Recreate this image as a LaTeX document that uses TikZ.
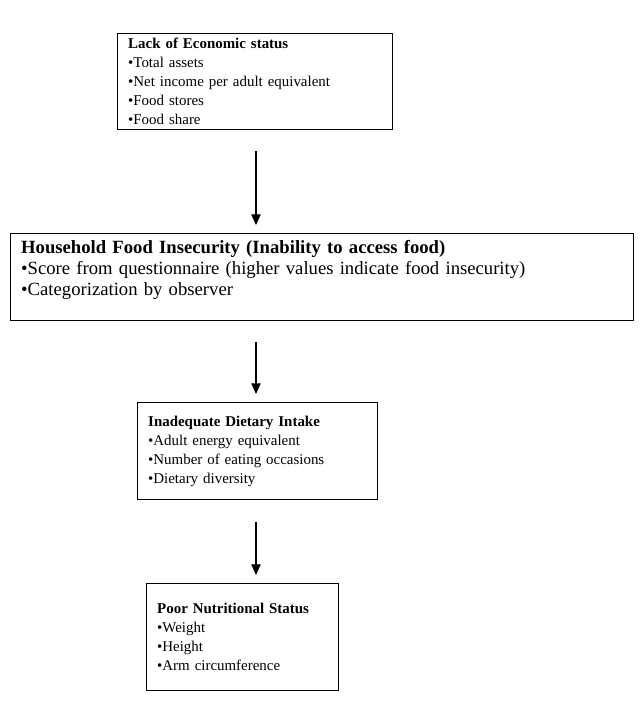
\documentclass[tikz,border=0pt]{standalone}
\usepackage{fontspec}
\setmainfont{Liberation Serif}
\usetikzlibrary{arrows.meta, positioning}

\begin{document}
\begin{tikzpicture}[
    x=0.75pt, y=-0.75pt,
    block/.style={rectangle, draw, line width=0.8pt, anchor=north west, align=left,
        inner xsep=8pt, inner ysep=0pt, font=\fontsize{11.2}{14.25}\selectfont},
    line/.style={-{Triangle[length=8pt, width=7pt]}, line width=0.8pt, shorten <=16pt, shorten >=6pt}
]
\useasboundingbox (0,0) rectangle (641,725);

% Nodes
\node[block, text width=190pt, minimum height=72pt] (economic) at (117,33)
    {\textbf{Lack of Economic status}\\•Total assets\\•Net income per adult equivalent\\•Food stores\\•Food share};
\node[block, text width=451pt, minimum height=65pt, font=\fontsize{14}{15.75}\selectfont] (insecurity) at (10,233)
    {\textbf{Household Food Insecurity (Inability to access food)}\\•Score from questionnaire (higher values indicate food insecurity)\\•Categorization by observer\\[-3pt]\mbox{}};
\node[block, text width=164pt, minimum height=73pt] (intake) at (137,402)
    {\textbf{Inadequate Dietary Intake}\\•Adult energy equivalent\\•Number of eating occasions\\•Dietary diversity};
\node[block, text width=128pt, minimum height=80pt] (nutrition) at (146,583)
    {\textbf{Poor Nutritional Status}\\•Weight\\•Height\\•Arm circumference};
\coordinate (axis) at (256,0);

% Connections
\draw[line] (economic.south -| axis) -- (insecurity.north -| axis);
\draw[line] (insecurity.south -| axis) -- (intake.north -| axis);
\draw[line] (intake.south -| axis) -- (nutrition.north -| axis);

\end{tikzpicture}
\end{document}
